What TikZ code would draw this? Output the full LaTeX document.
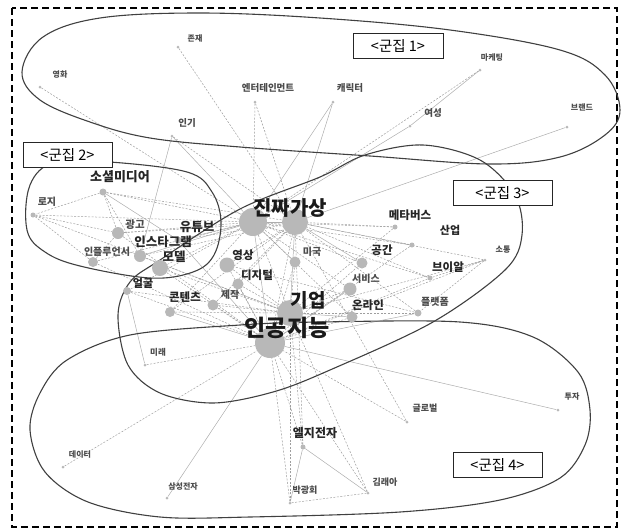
\documentclass[tikz,border=0pt]{standalone}
\usepackage{fontspec}
\newfontfamily\kr{Noto Sans CJK KR}
\usetikzlibrary{backgrounds}
\begin{document}
\begin{tikzpicture}[x=1pt,y=-1pt,
  dot/.style={circle,fill=black!28,draw=none,inner sep=0pt,minimum size=#1},
  wS/.style={font=\kr\bfseries\fontsize{8}{9}\selectfont,text=black!70,inner sep=0pt},
  wM/.style={font=\kr\bfseries\fontsize{11.5}{12}\selectfont,text=black!85,inner sep=0pt},
  wL/.style={font=\kr\bfseries\fontsize{20}{22}\selectfont,text=black!90,inner sep=0pt},
  ed/.style={draw=black!38,line width=0.5pt,dash pattern=on 2pt off 1.5pt},
  es/.style={draw=black!32,line width=0.5pt},
  clu/.style={draw=black!75,line width=1.1pt},
  tag/.style={draw=black!85,line width=0.8pt,fill=white,font=\kr\fontsize{14.5}{15}\selectfont,minimum height=25pt,inner sep=0pt}]
\useasboundingbox (0,0) rectangle (625,531);
\draw[line width=1.8pt,dash pattern=on 7pt off 4pt] (12,8) rectangle (617,527);

% cluster outlines
\draw[clu] plot[smooth cycle,tension=0.6] coordinates {(22,72) (43,37) (100,18) (200,13) (320,18) (450,30) (560,50) (605,75) (620,110) (605,135) (560,157) (490,164) (370,156) (240,147) (150,138) (90,122) (40,100)};
\draw[clu] plot[smooth cycle,tension=0.6] coordinates {(30,185) (55,162) (110,162) (187,172) (212,192) (221,222) (214,255) (193,272) (150,278) (80,266) (45,252) (27,230)};
\draw[clu] plot[smooth cycle,tension=0.55] coordinates {(118,315) (130,282) (160,260) (240,209) (320,177) (365,155) (423,145) (480,160) (515,195) (522,235) (505,270) (433,322) (330,370) (273,392) (213,403) (160,393) (128,365)};
\draw[clu] plot[smooth cycle,tension=0.55] coordinates {(320,322) (460,322) (533,337) (578,372) (590,410) (585,445) (560,478) (500,500) (400,512) (250,517) (160,517) (88,502) (45,472) (30,430) (40,393) (67,360) (130,335) (240,325)};

% dots
\node[dot=3pt] (jonjae) at (178,47) {};
\node[dot=3pt] (yeonghwa) at (40,87) {};
\node[dot=3pt] (enter) at (255,102) {};
\node[dot=3pt] (charac) at (333,102) {};
\node[dot=3pt] (ingi) at (172,136) {};
\node[dot=3pt] (yeoseong) at (410,126) {};
\node[dot=3pt] (marketing) at (480,70) {};
\node[dot=3pt] (brand) at (567,127) {};
\node[dot=7pt] (social) at (103,192) {};
\node[dot=5pt] (roji) at (33,215) {};
\node[dot=12pt] (gwanggo) at (118,233) {};
\node[dot=7pt] (youtube) at (178,240) {};
\node[dot=12pt] (instagram) at (140,256) {};
\node[dot=10pt] (influencer) at (93,262) {};
\node[dot=16pt] (model) at (160,268) {};
\node[dot=28pt] (hubA) at (253,222) {};
\node[dot=26pt] (hubB) at (295,222) {};
\node[dot=15pt] (yeongsang) at (227,265) {};
\node[dot=11pt] (miguk) at (295,262) {};
\node[dot=11pt] (digital) at (238,284) {};
\node[dot=11pt] (gonggan) at (362,263) {};
\node[dot=5pt] (metaverse) at (395,227) {};
\node[dot=5pt] (saneop) at (412,245) {};
\node[dot=3pt] (sotong) at (485,260) {};
\node[dot=5pt] (vr) at (430,278) {};
\node[dot=13pt] (service) at (350,289) {};
\node[dot=11pt] (online) at (352,317) {};
\node[dot=7pt] (platform) at (418,313) {};
\node[dot=8pt] (eolgul) at (127,291) {};
\node[dot=10pt] (contents) at (170,312) {};
\node[dot=11pt] (jejak) at (213,305) {};
\node[dot=26pt] (gieop) at (290,313) {};
\node[dot=30pt] (ai) at (270,343) {};
\node[dot=3pt] (mirae) at (145,365) {};
\node[dot=3pt] (tuja) at (558,410) {};
\node[dot=3pt] (global) at (407,422) {};
\node[dot=5pt] (lg) at (303,447) {};
\node[dot=3pt] (data) at (63,467) {};
\node[dot=3pt] (samsung) at (167,498) {};
\node[dot=3pt] (park) at (290,503) {};
\node[dot=3pt] (kim) at (368,493) {};

% edges
\begin{scope}[on background layer]
\foreach \a/\b in {jonjae/hubB, yeonghwa/hubA, enter/hubA, enter/hubB, marketing/hubA, ingi/hubB,
  social/hubA, social/gwanggo, social/instagram, roji/hubA, roji/gwanggo, roji/influencer,
  gwanggo/hubA, gwanggo/hubB, influencer/hubA, influencer/ai, instagram/hubB, youtube/hubB,
  model/hubA, model/gieop, metaverse/hubA, metaverse/gieop, saneop/hubA, saneop/ai, sotong/hubB,
  sotong/ai, vr/hubA, vr/ai, gonggan/ai, service/hubA, online/hubA, platform/hubB, platform/yeongsang,
  eolgul/hubA, eolgul/gieop, contents/hubA, contents/gieop, jejak/hubB, jejak/ai, yeongsang/hubB,
  yeongsang/gieop, digital/hubB, digital/ai, miguk/hubA, miguk/ai, mirae/ai, global/ai, global/hubB,
  lg/hubB, lg/ai, park/ai, park/kim, data/ai, kim/gieop, social/hubB, roji/gieop, sotong/gieop,
  metaverse/hubB, saneop/hubB, vr/hubB, gonggan/hubA, service/gieop, online/ai, platform/gieop,
  influencer/gwanggo, instagram/gieop, eolgul/ai, contents/hubB, jejak/gieop, digital/gieop,
  yeongsang/ai, miguk/gieop, hubA/gieop, hubB/ai, lg/gieop, kim/ai, park/gieop, vr/sotong,
  gwanggo/ai, model/ai, social/roji, sotong/platform}
  \draw[ed] (\a) -- (\b);
\foreach \a/\b in {charac/hubA, charac/hubB, yeoseong/hubA, ingi/hubA, ingi/instagram, brand/hubB,
  tuja/ai, samsung/ai, lg/park, lg/kim, mirae/eolgul, gonggan/hubB, service/ai, online/gieop,
  platform/ai, hubA/ai, hubB/gieop, youtube/ai, contents/ai, social/youtube, yeoseong/marketing,
  hubA/hubB, gieop/ai, youtube/hubA, instagram/hubA}
  \draw[es] (\a) -- (\b);
\end{scope}

% labels
\node[wS] (l-jonjae) at (195,38) {존재};
\node[wS] (l-yeonghwa) at (60,75) {영화};
\node[wS,font=\kr\bfseries\fontsize{9.5}{10}\selectfont] (l-enter) at (268,88) {엔터테인먼트};
\node[wS,font=\kr\bfseries\fontsize{9.5}{10}\selectfont] (l-charac) at (350,88) {캐릭터};
\node[wS,font=\kr\bfseries\fontsize{9.5}{10}\selectfont] (l-ingi) at (187,123) {인기};
\node[wS,font=\kr\bfseries\fontsize{9.5}{10}\selectfont] (l-yeoseong) at (433,113) {여성};
\node[wS] (l-marketing) at (492,58) {마케팅};
\node[wS] (l-brand) at (582,107) {브랜드};

\node[wM,font=\kr\bfseries\fontsize{13}{14}\selectfont] (l-social) at (120,177) {소셜미디어};
\node[wS,font=\kr\bfseries\fontsize{10}{11}\selectfont] (l-roji) at (47,202) {로지};
\node[wS,font=\kr\bfseries\fontsize{10.5}{11}\selectfont] (l-gwanggo) at (135,225) {광고};
\node[wM,font=\kr\bfseries\fontsize{12.5}{13}\selectfont] (l-youtube) at (197,227) {유튜브};
\node[wM,font=\kr\bfseries\fontsize{12.5}{13}\selectfont] (l-instagram) at (163,242) {인스타그램};
\node[wS,font=\kr\bfseries\fontsize{10}{11}\selectfont] (l-influencer) at (107,252) {인플루언서};
\node[wM,font=\kr\bfseries\fontsize{12.5}{13}\selectfont] (l-model) at (174,257) {모델};

\node[wL] (l-jinjja) at (290,208) {진짜가상};
\node[wM] (l-yeongsang) at (243,255) {영상};
\node[wS,font=\kr\bfseries\fontsize{10}{11}\selectfont] (l-miguk) at (312,252) {미국};
\node[wM] (l-digital) at (257,275) {디지털};
\node[wM] (l-gonggan) at (382,250) {공간};
\node[wM] (l-metaverse) at (410,215) {메타버스};
\node[wM,font=\kr\bfseries\fontsize{11}{12}\selectfont] (l-saneop) at (450,230) {산업};
\node[wS] (l-sotong) at (503,250) {소통};
\node[wM] (l-vr) at (448,267) {브이알};
\node[wS,font=\kr\bfseries\fontsize{10}{11}\selectfont] (l-service) at (366,279) {서비스};
\node[wM] (l-online) at (368,305) {온라인};
\node[wS,font=\kr\bfseries\fontsize{10}{11}\selectfont] (l-platform) at (435,302) {플랫폼};
\node[wM,font=\kr\bfseries\fontsize{11}{12}\selectfont] (l-eolgul) at (143,283) {얼굴};
\node[wM] (l-contents) at (185,297) {콘텐츠};
\node[wS,font=\kr\bfseries\fontsize{10}{11}\selectfont] (l-jejak) at (230,295) {제작};
\node[wL,font=\kr\bfseries\fontsize{19}{20}\selectfont] (l-gieop) at (308,300) {기업};
\node[wL,font=\kr\bfseries\fontsize{23}{24}\selectfont] (l-ai) at (287,328) {인공지능};
\node[wS,font=\kr\bfseries\fontsize{8.5}{9}\selectfont] (l-mirae) at (158,352) {미래};

\node[wS] (l-tuja) at (572,397) {투자};
\node[wS,font=\kr\bfseries\fontsize{9}{10}\selectfont] (l-global) at (425,408) {글로벌};
\node[wM,font=\kr\bfseries\fontsize{12}{13}\selectfont] (l-lg) at (315,433) {엘지전자};
\node[wS] (l-data) at (80,455) {데이터};
\node[wS] (l-samsung) at (183,487) {삼성전자};
\node[wS,font=\kr\bfseries\fontsize{9}{10}\selectfont] (l-park) at (305,490) {박광회};
\node[wS,font=\kr\bfseries\fontsize{9}{10}\selectfont] (l-kim) at (385,482) {김래아};

% cluster tags
\node[tag,minimum width=90pt] (t1) at (398,45.5) {<군집 1>};
\node[tag,minimum width=89pt] (t2) at (67.5,154.5) {<군집 2>};
\node[tag,minimum width=99pt] (t3) at (502.5,192.5) {<군집 3>};
\node[tag,minimum width=89pt] (t4) at (497.5,465) {<군집 4>};
\end{tikzpicture}
\end{document}
